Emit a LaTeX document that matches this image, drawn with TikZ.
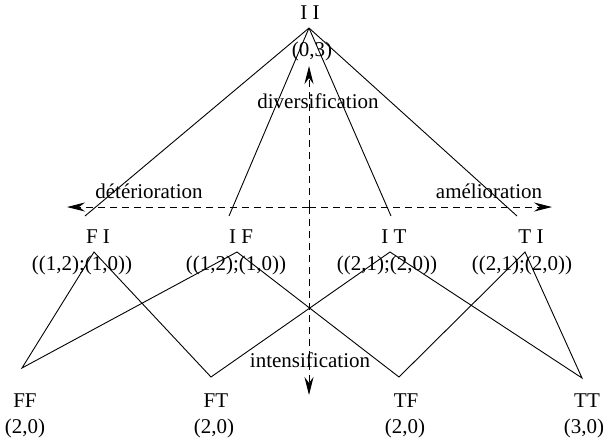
\documentclass[tikz,border=0pt]{standalone}
\usepackage{fontspec}
\setmainfont{Liberation Serif}
\usetikzlibrary{arrows.meta}
\begin{document}
\begin{tikzpicture}[x=1pt,y=-1pt,
  lbl/.style={anchor=base,inner sep=0pt,font=\fontsize{21}{25}\selectfont},
  edge/.style={line width=0.9pt},
  axis/.style={line width=0.9pt,dash pattern=on 7pt off 5pt,-{Stealth[length=18pt,width=9pt,inset=6pt]}}]
\useasboundingbox (0,0) rectangle (603,440);
% vertices
\coordinate (II) at (309,28);
\coordinate (FIt) at (85,216);
\coordinate (IFt) at (229,216);
\coordinate (ITt) at (391,216);
\coordinate (TIt) at (517,216);
\coordinate (FIb) at (94,252);
\coordinate (IFb) at (237,252);
\coordinate (ITb) at (390,252);
\coordinate (TIb) at (525,252);
\coordinate (FFv) at (22,368);
\coordinate (FTv) at (211,377);
\coordinate (TFv) at (399,377);
\coordinate (TTv) at (582,378);
\coordinate (C) at (309,207);
\coordinate (L) at (67,207);
\coordinate (R) at (552,207);
\coordinate (U) at (309,66);
\coordinate (D) at (309,395);
% axes
\draw[axis] (C) -- (L);
\draw[axis] (C) -- (R);
\draw[axis] (C) -- (U);
\draw[axis] (C) -- (D);
% edges
\foreach \t in {FIt,IFt,ITt,TIt} \draw[edge] (II) -- (\t);
\draw[edge] (FFv) -- (FIb) -- (FTv) -- (ITb) -- (TTv) -- (TIb) -- (TFv) -- (IFb) -- cycle;
% labels
\node[lbl] (tII) at (310,19) {I I};
\node[lbl] (vII) at (312,56) {(0,3)};
\node[lbl] (div) at (318,108) {diversification};
\node[lbl] (det) at (149,198) {détérioration};
\node[lbl] (ame) at (489,198) {amélioration};
\node[lbl] (tFI) at (98,243) {F I};
\node[lbl] (vFI) at (82,270) {((1,2);(1,0))};
\node[lbl] (tIF) at (241,243) {I F};
\node[lbl] (vIF) at (236,270) {((1,2);(1,0))};
\node[lbl] (tIT) at (394,243) {I T};
\node[lbl] (vIT) at (387,270) {((2,1);(2,0))};
\node[lbl] (tTI) at (531,243) {T I};
\node[lbl] (vTI) at (522,270) {((2,1);(2,0))};
\node[lbl] (int) at (310,367) {intensification};
\node[lbl] (tFF) at (25,407) {FF};
\node[lbl] (vFF) at (25,433) {(2,0)};
\node[lbl] (tFT) at (216,407) {FT};
\node[lbl] (vFT) at (214,433) {(2,0)};
\node[lbl] (tTF) at (406,407) {TF};
\node[lbl] (vTF) at (405,433) {(2,0)};
\node[lbl] (tTT) at (587,407) {TT};
\node[lbl] (vTT) at (584,433) {(3,0)};
\end{tikzpicture}
\end{document}
